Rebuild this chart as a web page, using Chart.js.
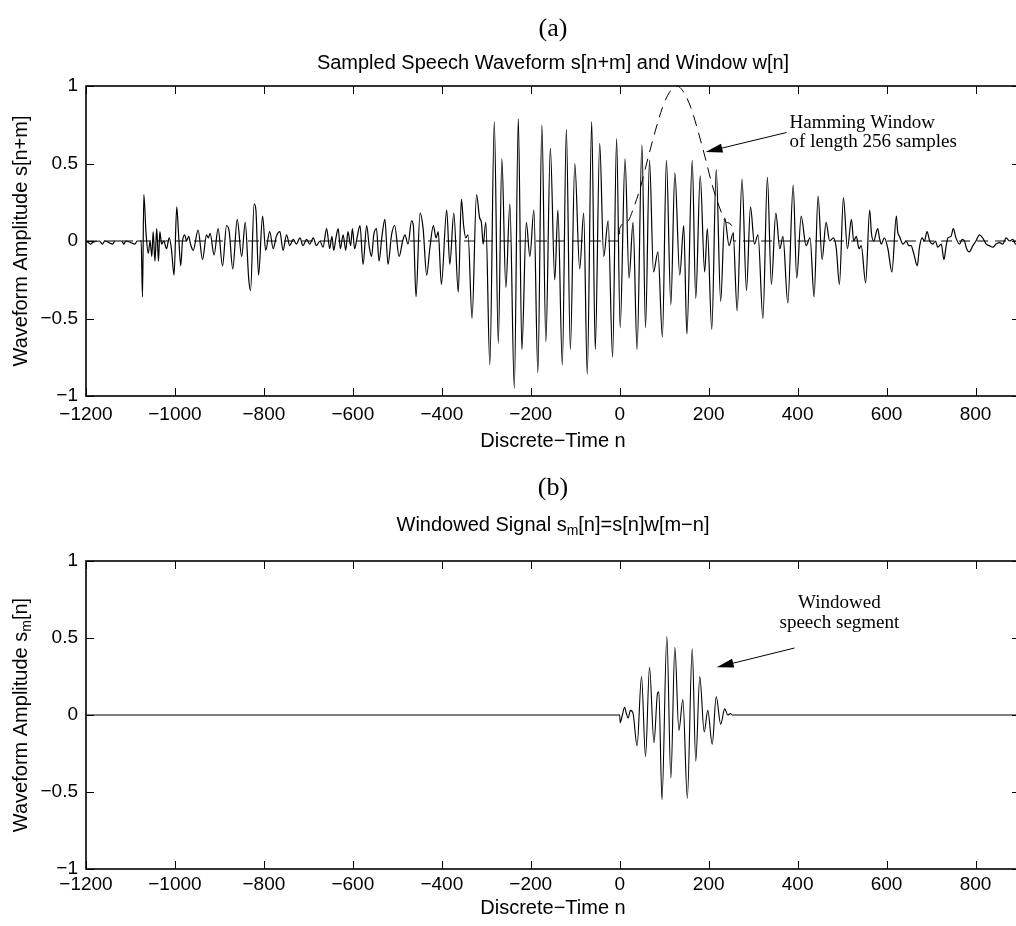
<!DOCTYPE html>
<html><head><meta charset="utf-8">
<script src="https://cdn.jsdelivr.net/npm/chart.js@4.4.1/dist/chart.umd.min.js"></script>
<style>
html,body{margin:0;padding:0;background:#fff;overflow:hidden;width:1016px;height:926px}
#wrap{position:relative;width:1016px;height:926px;overflow:hidden;background:#fff}
canvas{position:absolute;left:0}
</style></head><body>
<div id="wrap">
<canvas id="ca" width="1024" height="463" style="top:0"></canvas>
<canvas id="cb" width="1024" height="463" style="top:463px"></canvas>
</div>
<script>
// ---------- data ----------
const X_TICKS = [-1200,-1000,-800,-600,-400,-200,0,200,400,600,800];
const Y_TICKS = [-1,-0.5,0,0.5,1];

// (a) sampled speech waveform s[n+m]
const N_A = [-1200,-1195,-1190,-1185,-1170,-1163,-1158,-1140,-1135,-1120,-1115,-1110,-1090,-1085,-1076,
-1073,-1070,-1065,-1060,-1056,-1052,-1049,-1045,-1041,-1037,-1034,-1030,-1025,-1019,-1013,-1008,
-1002,-996,-992,-987,-983,-978,-974,-969,-965,-959,-948,-938,-929,-925,-921,-912,-903,-893,-884,-878,
-870,-860,-850,-842,-834,-830,-822,-818,-812,-803,-796,-787,-779,-772,-764,-757,-749,-742,-734,-727,
-719,-712,-704,-697,-689,-682,-674,-667,-659,-652,-647,-643,-638,-633,-628,-622,-616,-611,-605,-601,
-596,-590,-584,-577,-569,-563,-558,-553,-547,-541,-535,-528,-521,-513,-506,-496,-488,-483,-476,-468,
-464,-458,-449,-442,-434,-427,-419,-413,-408,-401,-389,-382,-373,-363,-356,-351,-346,-341,-332,-322,
-315,-311,-307,-301,-292,-282,-273,-265,-256,-247,-237,-228,-220,-210,-202,-193,-184,-175,-166,-156,
-146,-139,-129,-120,-111,-101,-90,-81,-73,-63,-55,-45,-36,-26,-16,-7,1,12,21,30,39,50,58,67,76,86,96,
105,115,124,135,144,151,163,171,181,191,197,207,217,227,236,246,255,264,275,285,294,303,311,322,332,
341,351,360,367,378,390,398,408,419,428,437,446,455,464,472,481,487,494,503,512,521,526,532,538,543,
553,562,566,571,580,584,588,595,603,612,622,625,629,637,644,650,655,661,669,674,680,685,691,697,704,
710,715,723,729,734,738,745,750,756,764,770,775,780,786,794,801,809,816,824,831,839,846,854,861,869,
876,884,890,900];
const S_A = [0,-0.01,-0.02,-0.01,0,-0.02,0,-0.02,0,0,-0.02,0,-0.02,0,0,
-0.36,0.30,0.05,-0.08,0.0,-0.1,0.06,-0.13,0.08,-0.13,0.06,-0.02,0.0,-0.05,0.02,-0.05,
-0.22,0.22,0.05,-0.16,0.0,0.04,0.0,0.03,-0.02,-0.06,0.07,-0.12,0.04,0.02,0.05,-0.09,0.08,-0.16,0.1,0.06,
-0.18,0.14,-0.1,0.12,-0.25,-0.32,0.24,0.2,-0.22,0.16,-0.06,0.06,-0.05,0.03,0.06,-0.06,0.04,-0.03,0.01,-0.02,
0.02,-0.03,0.01,-0.02,0.02,-0.03,0.0,-0.04,0.08,-0.05,0.03,-0.06,0.02,0.08,-0.05,0.04,-0.06,0.06,-0.03,0.08,
-0.05,0.03,0.1,-0.15,0.1,-0.04,-0.1,0.04,0.08,-0.13,0.02,0.14,-0.15,0.04,0.1,-0.1,0.0,0.04,-0.02,0.13,
0.1,-0.36,0.18,0.08,-0.22,-0.05,0.1,0.02,0.06,-0.28,0.2,-0.15,0.18,-0.33,0.27,0.1,0.02,0.04,-0.5,0.3,
0.15,0.12,-0.02,0.12,-0.8,0.77,-0.66,0.53,-0.3,0.24,-0.95,0.79,-0.7,0.12,-0.1,0.2,-0.85,0.75,-0.65,0.6,
-0.25,0.2,-0.8,0.72,-0.7,0.5,-0.18,0.18,-0.86,0.77,-0.7,0.63,-0.1,0.13,-0.75,0.66,-0.56,0.53,-0.24,0.12,-0.7,0.62,-0.56,0.52,-0.2,-0.07,-0.62,
0.52,-0.41,0.44,-0.22,0.1,-0.6,0.52,-0.37,0.42,-0.2,0.08,-0.57,0.46,-0.39,0.15,-0.03,0.05,-0.45,0.4,-0.32,0.22,-0.02,0.04,-0.5,0.41,
-0.28,0.18,-0.05,0.03,-0.4,0.36,-0.24,0.16,-0.03,0.02,-0.36,0.29,-0.12,0.12,0.0,0.02,-0.05,-0.28,0.28,-0.05,0.14,0.0,0.03,-0.05,-0.03,
-0.27,0.2,0.05,0.0,0.08,0.02,-0.02,0.02,-0.05,-0.2,0.16,0.06,0.03,-0.02,0.0,-0.03,-0.03,-0.08,-0.16,-0.04,0.02,0.0,0.06,0.0,-0.02,
0.0,-0.04,-0.02,-0.12,-0.03,0.02,0.03,0.08,0.02,-0.02,0.01,0.0,-0.05,-0.07,-0.03,0.0,0.04,0.02,-0.02,-0.03,-0.04,-0.02,-0.01,-0.02,0.02,
0.0,0.01,-0.02,-0.01];

// (a) Hamming window w[n] (zero outside 0..255)
const N_W = [-1200,-1,0,16,32,48,64,80,96,112,128,144,160,176,192,208,224,240,255,256,900];
const W_A = [0,0,0.08,0.12,0.22,0.36,0.54,0.71,0.86,0.96,1.0,0.96,0.86,0.71,0.54,0.36,0.22,0.12,0.08,0,0];

// (b) windowed signal s_m[n]
const N_B = [-1200,0,1,6,11,15,19,24,30,39,49,58,67,77,85,88,95,106,115,124,133,142,152,163,171,180,190,198,208,217,227,236,243,249,253,900];
const S_B = [0,0,-0.05,0.0,0.05,0.01,-0.02,0.03,0.01,-0.2,0.25,-0.27,0.31,-0.18,0.14,0.15,-0.55,0.51,-0.41,0.44,-0.1,0.1,-0.54,0.43,-0.3,0.25,-0.11,0.03,-0.19,0.12,-0.06,0.04,0.0,0.01,0,0];

// ---------- helpers ----------
const pts = (xs, ys) => xs.map((x, i) => ({x: x, y: ys[i]}));
const fmt = v => String(v).replace('-', '\u2212');
const SANS = '"Liberation Sans", Arial, Helvetica, sans-serif';
const SERIF = '"Liberation Serif", "Times New Roman", serif';

function richWidth(ctx, parts, size) {
  let w = 0;
  parts.forEach(p => { ctx.font = (p.sub ? Math.round(size * 0.72) : size) + 'px ' + SANS; w += ctx.measureText(p.t).width; });
  return w;
}
function drawRich(ctx, parts, x, y, size) {
  const w = richWidth(ctx, parts, size);
  let cx = x - w / 2;
  ctx.textAlign = 'left'; ctx.textBaseline = 'middle';
  parts.forEach(p => {
    ctx.font = (p.sub ? Math.round(size * 0.72) : size) + 'px ' + SANS;
    ctx.fillText(p.t, cx, y + (p.sub ? size * 0.32 : 0));
    cx += ctx.measureText(p.t).width;
  });
}
function arrow(ctx, x1, y1, x2, y2) {
  const a = Math.atan2(y2 - y1, x2 - x1), L = 17, H = 4.5;
  const bx = x2 - L * Math.cos(a), by = y2 - L * Math.sin(a);
  ctx.beginPath(); ctx.moveTo(x1, y1); ctx.lineTo(bx, by); ctx.stroke();
  ctx.beginPath(); ctx.moveTo(x2, y2);
  ctx.lineTo(bx + H * Math.sin(a), by - H * Math.cos(a));
  ctx.lineTo(bx - H * Math.sin(a), by + H * Math.cos(a));
  ctx.closePath(); ctx.fill();
}

const framePlugin = {
  id: 'frame',
  afterDraw(chart, args, o) {
    const {ctx, chartArea: a, scales: {x, y}} = chart;
    ctx.save();
    ctx.strokeStyle = '#000'; ctx.fillStyle = '#000'; ctx.lineWidth = 1;
    const TL = 8;
    ctx.beginPath();
    X_TICKS.forEach(v => { const px = Math.round(x.getPixelForValue(v)) + 0.5;
      ctx.moveTo(px, a.bottom); ctx.lineTo(px, a.bottom - TL); ctx.moveTo(px, a.top); ctx.lineTo(px, a.top + TL); });
    Y_TICKS.forEach(v => { const py = Math.round(y.getPixelForValue(v)) + 0.5;
      ctx.moveTo(a.left, py); ctx.lineTo(a.left + TL, py); ctx.moveTo(a.right, py); ctx.lineTo(a.right - TL, py); });
    ctx.stroke();
    ctx.lineWidth = 1.6;
    ctx.strokeRect(a.left, a.top, a.right - a.left, a.bottom - a.top);
    const cxp = (a.left + a.right) / 2;
    ctx.font = o.tagSize + 'px ' + SERIF; ctx.textAlign = 'center'; ctx.textBaseline = 'middle';
    ctx.fillText(o.tag, cxp, o.tagY);
    drawRich(ctx, o.title, cxp, o.titleY, o.fontSize);
    ctx.save(); ctx.translate(o.ylabelX, (a.top + a.bottom) / 2); ctx.rotate(-Math.PI / 2);
    drawRich(ctx, o.ylabel, 0, 0, o.fontSize); ctx.restore();
    ctx.lineWidth = 1;
    o.notes.forEach(n => {
      ctx.font = n.size + 'px ' + SERIF; ctx.textAlign = n.align; ctx.textBaseline = 'middle';
      n.lines.forEach((t, i) => ctx.fillText(t, x.getPixelForValue(n.x), y.getPixelForValue(n.y[i])));
    });
    o.arrows.forEach(r => arrow(ctx, x.getPixelForValue(r.from[0]), y.getPixelForValue(r.from[1]),
                                     x.getPixelForValue(r.to[0]), y.getPixelForValue(r.to[1])));
    ctx.restore();
  }
};

function makeChart(id, datasets, cfg) {
  return new Chart(document.getElementById(id), {
    type: 'line',
    data: {datasets: datasets},
    options: {
      responsive: false, animation: false, devicePixelRatio: 1, events: [],
      layout: {padding: {top: cfg.top, right: 4, bottom: 0, left: 0}},
      plugins: {legend: {display: false}, tooltip: {enabled: false}, title: {display: false}, frame: cfg.frame},
      scales: {
        x: {type: 'linear', min: -1200, max: 900,
            afterBuildTicks: s => { s.ticks = X_TICKS.map(v => ({value: v})); },
            afterFit: s => { s.height = cfg.xh; },
            grid: {display: false, drawTicks: false}, border: {display: false},
            ticks: {padding: cfg.tickPad, color: '#000', maxRotation: 0, autoSkip: false,
                    font: {family: SANS, size: cfg.tickSize}, callback: v => fmt(v)},
            title: {display: true, text: 'Discrete\u2212Time n', color: '#000',
                    font: {family: SANS, size: cfg.fontSize}, padding: {top: 0, bottom: cfg.xtitlePad}}},
        y: {type: 'linear', min: -1, max: 1,
            afterBuildTicks: s => { s.ticks = Y_TICKS.map(v => ({value: v})); },
            afterFit: s => { s.width = 86; },
            grid: {display: false, drawTicks: false}, border: {display: false},
            ticks: {padding: 8, color: '#000', font: {family: SANS, size: cfg.tickSize}, callback: v => fmt(v)}}
      }
    },
    plugins: [framePlugin]
  });
}

const line = (data, dash, w) => ({data: data, borderColor: '#000', borderWidth: w || 1.2, pointRadius: 0,
  cubicInterpolationMode: 'monotone', fill: false, borderDash: dash || []});

makeChart('ca', [line(pts(N_A, S_A)), line(pts(N_W, W_A), [11, 7], 1)], {
  top: 86, xh: 67, tickPad: 7, xtitlePad: 10, tickSize: 19, fontSize: 20,
  frame: {tag: '(a)', tagY: 29, tagSize: 26, title: [{t: 'Sampled Speech Waveform s[n+m] and Window w[n]'}], titleY: 63,
          fontSize: 20, ylabelX: 21, ylabel: [{t: 'Waveform Amplitude s[n+m]'}],
          notes: [{lines: ['Hamming Window', 'of length 256 samples'], x: 382, y: [0.76, 0.64], align: 'left', size: 19}],
          arrows: [{from: [375, 0.70], to: [193, 0.574]}]}
});
makeChart('cb', [line(pts(N_B, S_B), null, 1.1)], {
  top: 98, xh: 57, tickPad: 4, xtitlePad: 6, tickSize: 19, fontSize: 20,
  frame: {tag: '(b)', tagY: 25, tagSize: 26, title: [{t: 'Windowed Signal s'}, {t: 'm', sub: true}, {t: '[n]=s[n]w[m\u2212n]'}], titleY: 62,
          fontSize: 20, ylabelX: 21, ylabel: [{t: 'Waveform Amplitude s'}, {t: 'm', sub: true}, {t: '[n]'}],
          notes: [{lines: ['Windowed', 'speech segment'], x: 494, y: [0.73, 0.6], align: 'center', size: 19}],
          arrows: [{from: [393, 0.435], to: [218, 0.31]}]}
});
</script>
</body></html>
